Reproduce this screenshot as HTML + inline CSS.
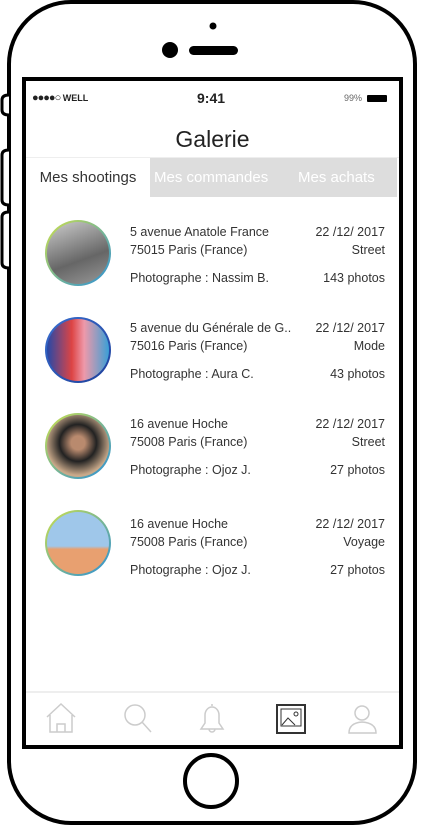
<!DOCTYPE html>
<html><head><meta charset="utf-8"><style>
*{margin:0;padding:0;box-sizing:border-box}
body{width:422px;height:826px;background:#fff;position:relative;overflow:hidden;font-family:"Liberation Sans",sans-serif;color:#222}
.abs{position:absolute}
.t{position:absolute;font-size:12.5px;white-space:nowrap;color:#333}
.r{text-align:right;right:37px}
</style></head><body>
<svg class="abs" style="left:0;top:0" width="422" height="826">
<rect x="9" y="2" width="406" height="821" rx="62" fill="none" stroke="#000" stroke-width="4"/>
<path d="M9 95 Q2 95 2 100 V110 Q2 115 9 115 M9 150 Q2 150 2 155 V200 Q2 205 9 205 M9 212 Q2 212 2 217 V263 Q2 268 9 268" fill="#fff" stroke="#000" stroke-width="3"/>
<rect x="24" y="79" width="377" height="668" fill="none" stroke="#000" stroke-width="4"/>
<circle cx="213" cy="26" r="3.5" fill="#000"/>
<circle cx="170" cy="50" r="8" fill="#000"/>
<rect x="189" y="46" width="49" height="9" rx="4.5" fill="#000"/>
<circle cx="211" cy="781" r="26" fill="none" stroke="#000" stroke-width="4"/>
<line x1="26" y1="692" x2="399" y2="692" stroke="#ddd" stroke-width="1"/>
</svg>
<div class="abs" style="left:32px;top:92px;width:360px;height:16px;font-size:9px;font-weight:bold">
<span style="font-size:11px;letter-spacing:-1px">●●●●○</span> WELL
<span style="position:absolute;left:165px;top:-2px;font-size:14px">9:41</span>
<span style="position:absolute;right:30px;top:1px;color:#666;font-weight:normal">99%</span>
<span style="position:absolute;right:5px;top:3px;width:20px;height:7px;background:#000;border-radius:1px"></span>
</div>
<div class="abs" style="left:26px;width:373px;top:126px;text-align:center;font-size:23px;color:#222">Galerie</div>
<div class="abs" style="left:26px;top:157px;width:373px;height:1px;background:#eee"></div>
<div class="abs" style="left:26px;top:158px;width:124px;height:39px;font-size:15px;line-height:40px;text-align:center;color:#333">Mes shootings</div>
<div class="abs" style="left:150px;top:158px;width:247px;height:39px;background:#ddd"></div>
<div class="abs" style="left:154px;top:158px;font-size:15px;line-height:40px;color:#fff">Mes commandes</div>
<div class="abs" style="left:298px;top:158px;font-size:15px;line-height:40px;color:#fff">Mes achats</div>

<div>
<div class="abs" style="left:45px;top:220px;width:66px;height:66px;border-radius:50%;background:linear-gradient(135deg,#cde04a,#2a8fd8);padding:2px"><div style="width:100%;height:100%;border-radius:50%;background:linear-gradient(160deg,#ccc,#666 60%,#999)"></div></div>
<div class="t" style="left:130px;top:225px">5 avenue Anatole France</div>
<div class="t" style="left:130px;top:243px">75015 Paris (France)</div>
<div class="t" style="left:130px;top:271px">Photographe : Nassim B.</div>
<div class="t r" style="top:225px">22 /12/ 2017</div>
<div class="t r" style="top:243px">Street</div>
<div class="t r" style="top:271px">143 photos</div>
</div>
<div>
<div class="abs" style="left:45px;top:317px;width:66px;height:66px;border-radius:50%;background:linear-gradient(135deg,#3a6fd0,#1d3f9a);padding:2px"><div style="width:100%;height:100%;border-radius:50%;background:linear-gradient(90deg,#2548a8,#d44 40%,#e9a 60%,#3a9fd6)"></div></div>
<div class="t" style="left:130px;top:321px">5 avenue du Générale de G..</div>
<div class="t" style="left:130px;top:339px">75016 Paris (France)</div>
<div class="t" style="left:130px;top:367px">Photographe : Aura C.</div>
<div class="t r" style="top:321px">22 /12/ 2017</div>
<div class="t r" style="top:339px">Mode</div>
<div class="t r" style="top:367px">43 photos</div>
</div>
<div>
<div class="abs" style="left:45px;top:413px;width:66px;height:66px;border-radius:50%;background:linear-gradient(135deg,#cde04a,#2a8fd8);padding:2px"><div style="width:100%;height:100%;border-radius:50%;background:radial-gradient(circle at 50% 45%,#b98a6e 15%,#222 40%,#c9a98a 70%)"></div></div>
<div class="t" style="left:130px;top:417px">16 avenue Hoche</div>
<div class="t" style="left:130px;top:435px">75008 Paris (France)</div>
<div class="t" style="left:130px;top:463px">Photographe : Ojoz J.</div>
<div class="t r" style="top:417px">22 /12/ 2017</div>
<div class="t r" style="top:435px">Street</div>
<div class="t r" style="top:463px">27 photos</div>
</div>
<div>
<div class="abs" style="left:45px;top:510px;width:66px;height:66px;border-radius:50%;background:linear-gradient(135deg,#cde04a,#2a8fd8);padding:2px"><div style="width:100%;height:100%;border-radius:50%;background:linear-gradient(180deg,#9fc7ea 55%,#e8a070 60%)"></div></div>
<div class="t" style="left:130px;top:517px">16 avenue Hoche</div>
<div class="t" style="left:130px;top:535px">75008 Paris (France)</div>
<div class="t" style="left:130px;top:563px">Photographe : Ojoz J.</div>
<div class="t r" style="top:517px">22 /12/ 2017</div>
<div class="t r" style="top:535px">Voyage</div>
<div class="t r" style="top:563px">27 photos</div>
</div>

<svg class="abs" style="left:0;top:690px" width="422" height="60" fill="none" stroke="#ccc" stroke-width="1.5">
<g><path d="M47 27 L61 14 L75 27 M50 25 V42 H72 V25 M57 42 V34 H65 V42"/></g>
<g><circle cx="135" cy="25" r="10"/><line x1="142" y1="32" x2="151" y2="42"/></g>
<g><path d="M201 39 H223 L219 33 V25 A7 8 0 0 0 205 25 V33 Z M209 39 A3 3 0 0 0 215 39 M212 16 V14"/></g>
<g stroke="#333"><rect x="277" y="15" width="28" height="28" stroke-width="2"/><rect x="281" y="19" width="20" height="17" stroke-width="1"/><path d="M282 35 L288 28 L295 35" stroke-width="1"/><circle cx="296" cy="24" r="2" stroke-width="1"/></g>
<g><circle cx="362" cy="23" r="7"/><path d="M349 43 Q349 33 362 32 Q376 33 376 43 Z"/></g>
</svg>
</body></html>
